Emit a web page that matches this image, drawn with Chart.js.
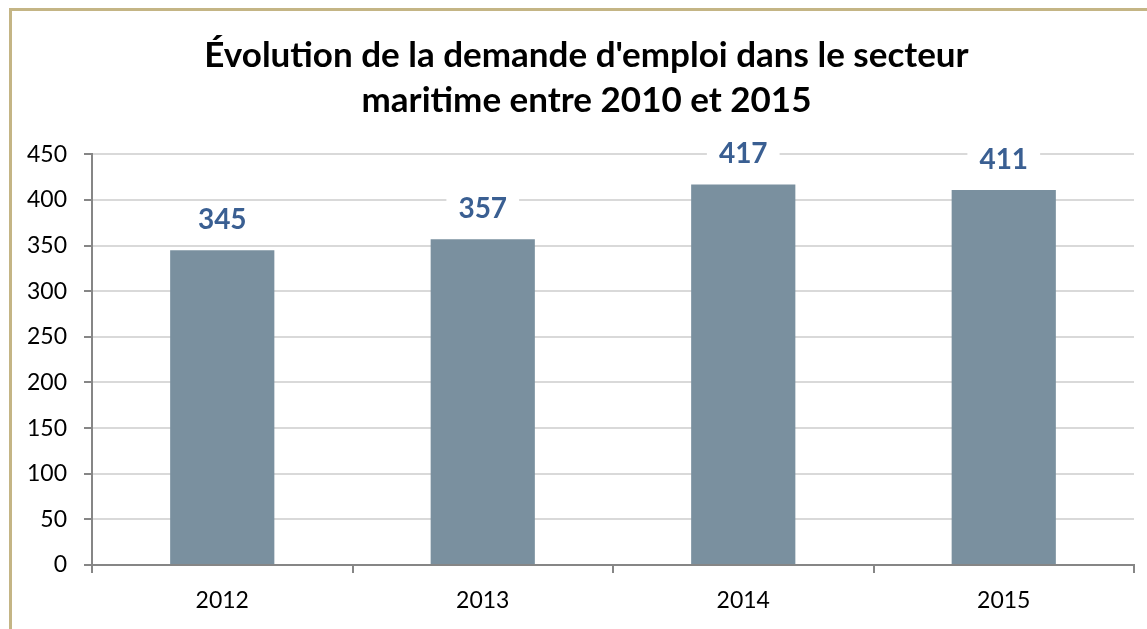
<!DOCTYPE html>
<html>
<head>
<meta charset="utf-8">
<script src="https://cdn.jsdelivr.net/npm/chart.js@4/dist/chart.umd.min.js"></script>
<style>
  html, body { margin: 0; padding: 0; background: #fff; }
  #wrap { position: relative; width: 1147px; height: 629px; }
</style>
</head>
<body>
<div id="wrap"><canvas id="chart" width="1147" height="629"></canvas></div>
<script>
const years = ["2012", "2013", "2014", "2015"];
const demandes = [345, 357, 417, 411];
const titleLines = ["Évolution de la demande d'emploi dans le secteur", "maritime entre 2010 et 2015"];

const fontFamily = "Lato, 'Liberation Sans', sans-serif";

// gold frame around the chart + title centred on the framed box
const framePlugin = {
    id: "frame",
    afterLayout(chart) {
        const tb = chart.titleBlock;
        if (tb) {
            tb.left = 39;
            tb.right = 1134;
            tb.width = tb.right - tb.left;
        }
    },
    beforeDraw(chart) {
        const ctx = chart.ctx;
        ctx.save();
        ctx.strokeStyle = "#C4B585";
        ctx.lineWidth = 3;
        ctx.strokeRect(10.5, 9.5, 1200, 700);
        ctx.restore();
    }
};

// value labels above bars with white background
const valueLabels = {
    id: "valueLabels",
    afterDatasetsDraw(chart) {
        const ctx = chart.ctx;
        const meta = chart.getDatasetMeta(0);
        ctx.save();
        ctx.font = "bold 28px " + fontFamily;
        ctx.textAlign = "center";
        ctx.textBaseline = "middle";
        meta.data.forEach((bar, i) => {
            const txt = String(demandes[i]);
            const y = bar.y - 31;
            const w = ctx.measureText(txt).width + 24;
            ctx.fillStyle = "#fff";
            ctx.fillRect(bar.x - w / 2, y - 16, w, 32);
            ctx.fillStyle = "#3A5F92";
            ctx.fillText(txt, bar.x, y + 1);
        });
        ctx.restore();
    }
};

new Chart(document.getElementById("chart"), {
    type: "bar",
    data: {
        labels: years,
        datasets: [{
            data: demandes,
            backgroundColor: "#7A909F",
            barPercentage: 0.8,
            categoryPercentage: 0.5
        }]
    },
    options: {
        responsive: false,
        animation: false,
        layout: { padding: { left: 0, right: 13, top: 0, bottom: 0 } },
        plugins: {
            legend: { display: false },
            tooltip: { enabled: false },
            title: {
                display: true,
                text: titleLines,
                color: "#000",
                font: { family: fontFamily, size: 35, weight: "bold", lineHeight: 1.29 },
                padding: { top: 33, bottom: 31 }
            }
        },
        scales: {
            x: {
                offset: true,
                afterFit(scale) { scale.height = 64; },
                grid: {
                    offset: true,
                    drawOnChartArea: false,
                    color: "#868686",
                    tickLength: 8,
                    lineWidth: 2
                },
                border: { color: "#868686", width: 2 },
                ticks: { color: "#000", font: { family: fontFamily, size: 23 }, padding: 14 }
            },
            y: {
                min: 0,
                max: 450,
                afterFit(scale) { scale.width = 92; },
                ticks: { stepSize: 50, color: "#000", font: { family: fontFamily, size: 23 }, padding: 17 },
                grid: { color: "#D9D9D9", lineWidth: 2, tickLength: 8, tickColor: "#868686" },
                border: { color: "#868686", width: 2 }
            }
        }
    },
    plugins: [framePlugin, valueLabels]
});
</script>
</body>
</html>
